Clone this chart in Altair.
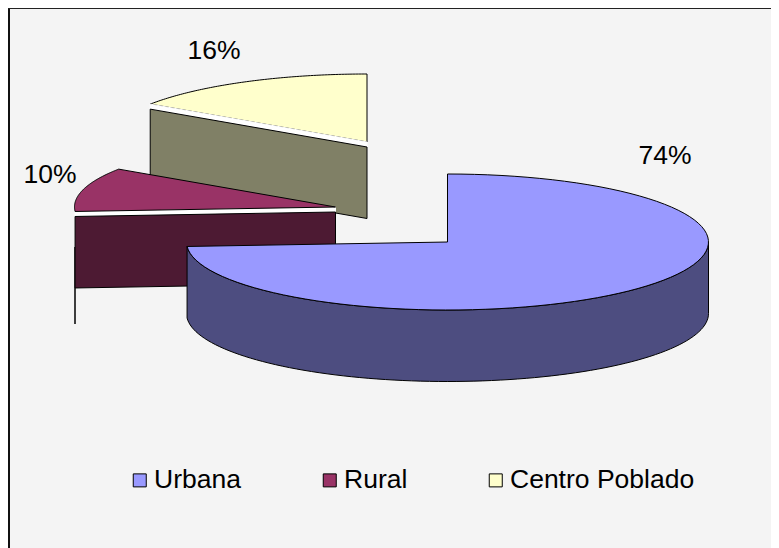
import math
import altair as alt

# Data
categories = ["Urbana", "Rural", "Centro Poblado"]
shares = [73.95, 10.45, 15.6]
label_x = [665, 50, 214]
label_y = [156, 175, 51]
top_colors = ["#9999ff", "#993366", "#ffffcc"]
wall_colors = ["#4d4d80", "#4d1a33", "#808066"]

W, H = 763, 540
OX, OY = 8, 8           # page margin
RX, RY = 261, 68        # ellipse radii of the tilted pie
DEPTH = 71.5
GAP = 5
centers = [(447.5, 242), (335.5, 207), (367, 142)]  # exploded slice centres


def pt(c, deg, dy=0):
    a = math.radians(deg)
    return [c[0] + RX * math.sin(a) - OX, c[1] - RY * math.cos(a) + dy - OY]


def arc(c, a0, a1, dy=0, n=90):
    return [pt(c, a0 + (a1 - a0) * i / n, dy) for i in range(n + 1)]


def feature(coords, name):
    return {"type": "Feature", "properties": {"name": name},
            "geometry": {"type": "Polygon", "coordinates": [coords + [coords[0]]]}}


def origin(c, dy=0):
    return [c[0] - OX, c[1] + dy - OY]


starts = [0.0, shares[0] * 3.6, (shares[0] + shares[1]) * 3.6]
ends = [shares[0] * 3.6, (shares[0] + shares[1]) * 3.6, 360.0]

proj = {"type": "identity"}
fill_scale = alt.Scale(domain=categories, range=top_colors)
legend = alt.Legend(
    title=None, orient="none", legendX=118.5, legendY=459, direction="horizontal",
    symbolType="square", symbolSize=169, symbolStrokeColor="#000000", symbolStrokeWidth=1,
    symbolOpacity=1, labelFontSize=26.5, labelFont="Liberation Sans", labelColor="#000000",
    columnPadding=75, labelOffset=1, labelLimit=300, padding=0,
)


def top(i):
    c = centers[i]
    coords = [origin(c)] + arc(c, starts[i], ends[i])
    return alt.Chart(alt.Data(values=[feature(coords, categories[i])])).mark_geoshape(
        stroke="#000000", strokeWidth=1
    ).encode(fill=alt.Fill("properties.name:N", scale=fill_scale, legend=legend)).project(**proj)


def flat(coords, color, stroke="#000000"):
    return alt.Chart(alt.Data(values=[feature(coords, "wall")])).mark_geoshape(
        fill=color, stroke=stroke, strokeWidth=1
    ).project(**proj)


def radial_wall(i):
    c = centers[i]
    return [origin(c, GAP), pt(c, starts[i], GAP), pt(c, starts[i], GAP + DEPTH), origin(c, GAP + DEPTH)]


def gap_band(c, deg):
    return [origin(c), pt(c, deg), pt(c, deg, GAP), origin(c, GAP)]


# Invisible sheet: makes the projection's fit come out at exactly 1 px per unit
sheet = alt.Chart(alt.Data(values=[feature([[0, 0], [W, 0], [W, H], [0, H]], "sheet")])).mark_geoshape(
    fill="#f4f4f4", stroke=None
).project(**proj)

# Urbana outer wall: right extreme round the front to the slice's end
uc = centers[0]
u_upper = arc(uc, 90, ends[0])
u_lower = arc(uc, 90, ends[0], DEPTH)
urbana_wall = u_upper + u_lower[::-1]

stem = alt.Chart(alt.Data(values=[{"a": 0}])).mark_rule(color="#000000", strokeWidth=1.5).encode(
    x=alt.value(75 - OX), y=alt.value(247 - OY), y2=alt.value(324 - OY)
)

frame_left = alt.Chart(alt.Data(values=[{"a": 0}])).mark_rule(color="#111111", strokeWidth=2).encode(
    x=alt.value(1), y=alt.value(0), y2=alt.value(H)
)
frame_top = alt.Chart(alt.Data(values=[{"a": 0}])).mark_rule(color="#222222", strokeWidth=2).encode(
    x=alt.value(0), x2=alt.value(W), y=alt.value(0)
)

label_rows = [{"name": n, "share": s, "px": x - OX, "py": y - OY}
              for n, s, x, y in zip(categories, shares, label_x, label_y)]
labels = alt.Chart(alt.Data(values=label_rows)).transform_calculate(
    txt="format(datum.share / 100, '.0%')"
).mark_text(font="Liberation Sans", fontSize=26.5, color="#000000", align="center", baseline="middle").encode(
    x=alt.X("px:Q", scale=None), y=alt.Y("py:Q", scale=None), text="txt:N"
)

chart = alt.layer(
    sheet,
    frame_left, frame_top,
    top(2),
    flat(gap_band(centers[2], starts[2]), "#ffffff", "#ffffff"),
    flat(radial_wall(2), wall_colors[2]),
    stem,
    flat(gap_band(centers[1], ends[0]), "#ffffff", "#ffffff"),
    flat(radial_wall(1), wall_colors[1]),
    top(1),
    flat(urbana_wall, wall_colors[0]),
    top(0),
    labels,
).properties(
    width=W, height=H, background="#f4f4f4", padding=0,
    autosize=alt.AutoSizeParams(type="none"),
).configure_view(stroke=None)

chart.save("out.html", embed_options={"renderer": "svg", "actions": False})
